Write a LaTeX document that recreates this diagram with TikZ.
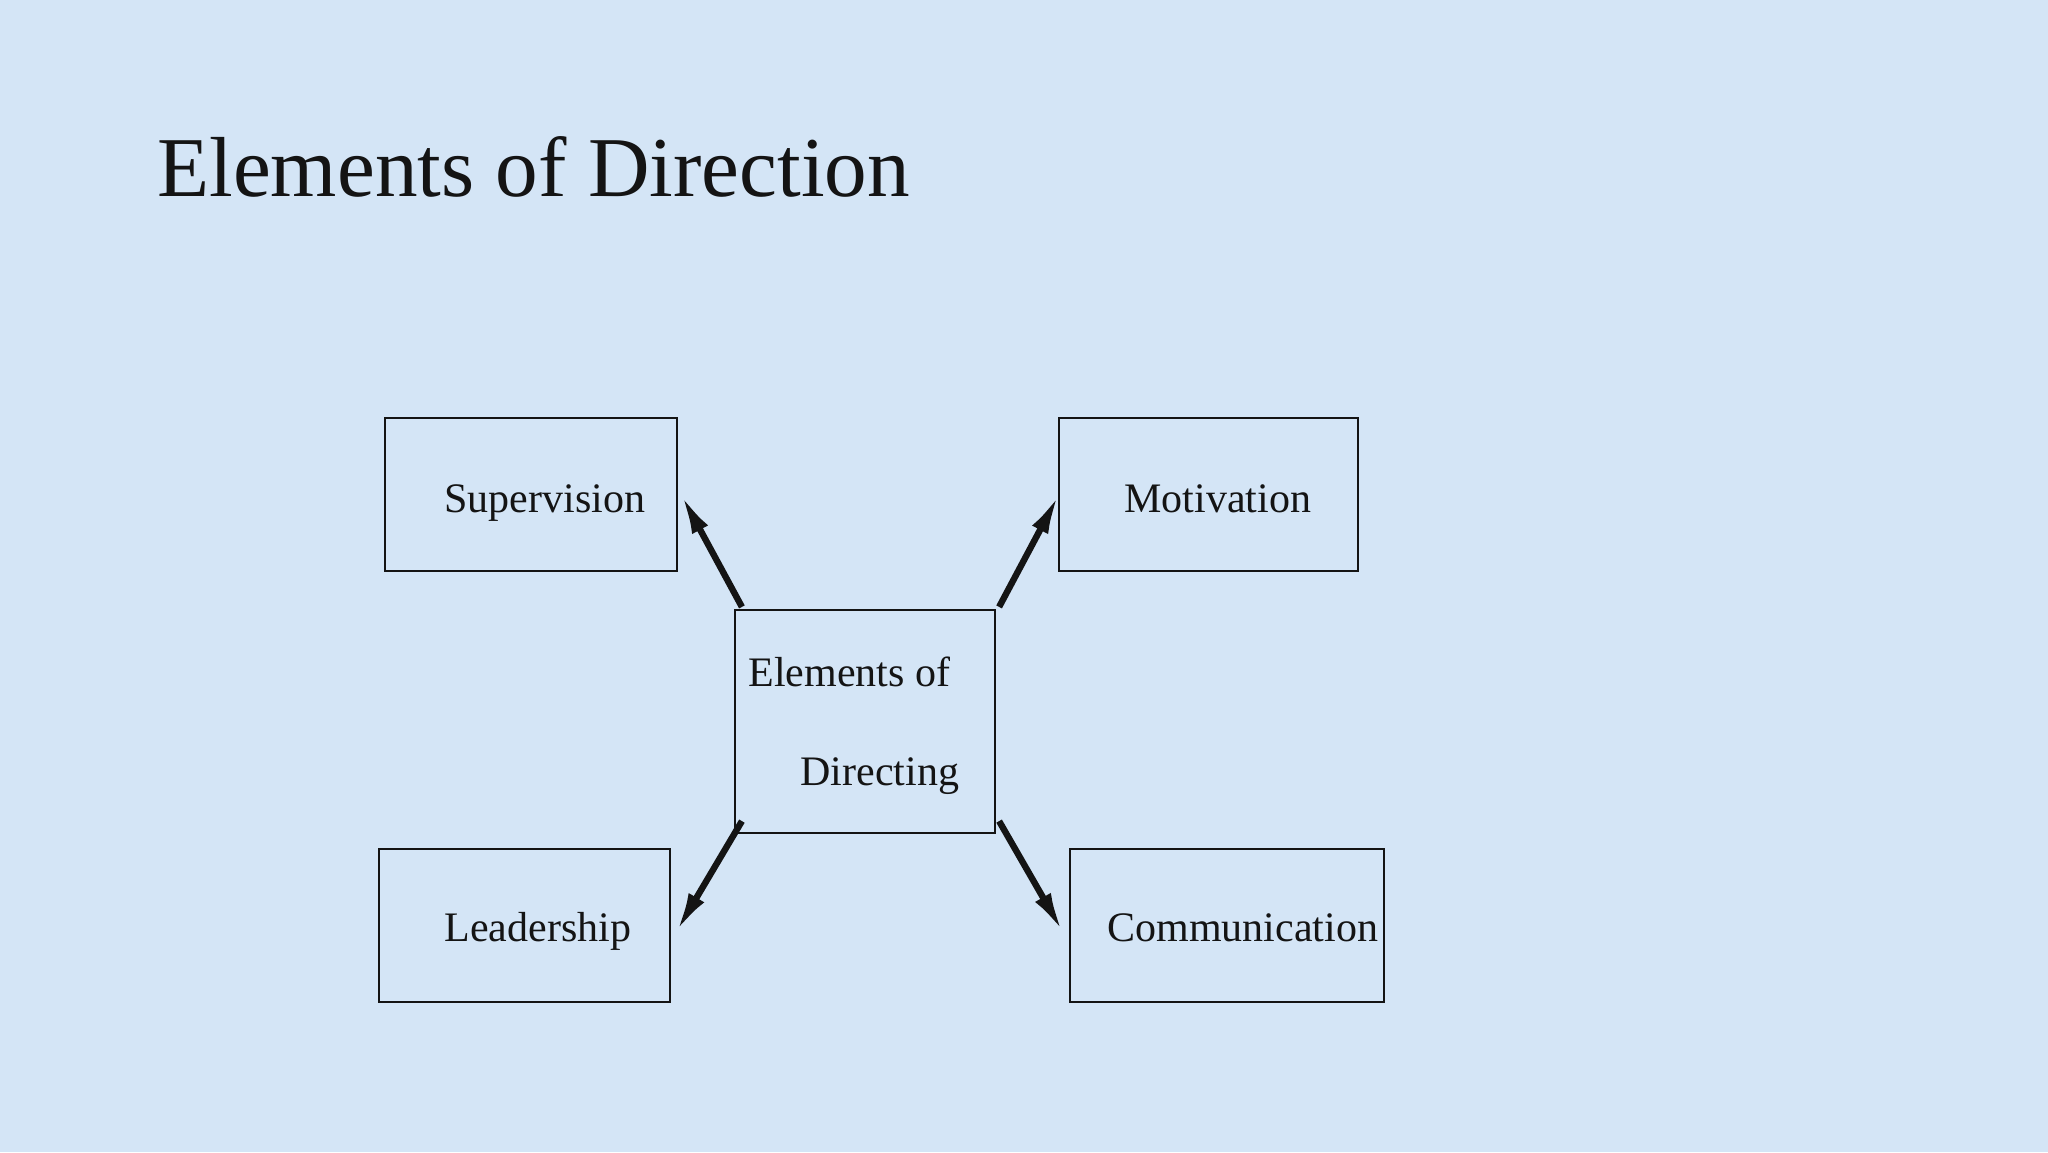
\documentclass[tikz,border=0pt]{standalone}
\usepackage{fontspec}
\setmainfont{Liberation Serif}
\usetikzlibrary{arrows.meta}
\definecolor{bgblue}{RGB}{212,229,246}
\definecolor{ink}{RGB}{20,20,20}
\begin{document}
\begin{tikzpicture}[x=0.5pt,y=-0.5pt,
  box/.style={draw=ink,line width=1.1pt,rectangle,inner sep=0pt},
  lbl/.style={anchor=base west,inner sep=0pt,text=ink,font=\fontsize{21}{25}\selectfont},
  arr/.style={draw=ink,line width=3.2pt,-{Latex[length=20pt,width=9pt]}}]
\fill[bgblue] (0,0) rectangle (2048,1152);
\useasboundingbox (0,0) rectangle (2048,1152);
% title
\node[anchor=base west,inner sep=0pt,text=ink,font=\fontsize{42.6}{50}\selectfont] (title) at (157,196) {Elements of Direction};
% boxes
\node[box,minimum width=146pt,minimum height=76.5pt] (sup) at (531,494.5) {};
\node[box,minimum width=149.5pt,minimum height=76.5pt] (mot) at (1208.5,494.5) {};
\node[box,minimum width=130pt,minimum height=111.5pt] (cen) at (865,721.5) {};
\node[box,minimum width=145.5pt,minimum height=76.5pt] (lead) at (524.5,925.5) {};
\node[box,minimum width=157pt,minimum height=76.5pt] (comm) at (1227,925.5) {};
% labels
\node[lbl] (tsup) at (444,512) {Supervision};
\node[lbl] (tmot) at (1124,512) {Motivation};
\node[lbl] (tlead) at (444,941) {Leadership};
\node[lbl] (tcomm) at (1107,941) {Communication};
\node[lbl] (tcen1) at (748,686) {Elements of};
\node[lbl] (tcen2) at (800,785) {Directing};
% arrows
\coordinate (s1) at ([xshift=4pt,yshift=1pt]cen.north west);
\coordinate (s2) at ([xshift=1.5pt,yshift=1pt]cen.north east);
\coordinate (s3) at ([xshift=4pt,yshift=6.5pt]cen.south west);
\coordinate (s4) at ([xshift=1.5pt,yshift=6.5pt]cen.south east);
\draw[arr] (s1) -- ([xshift=1.5pt,yshift=0pt]sup.east);
\draw[arr] (s2) -- ([xshift=0.5pt,yshift=0pt]mot.west);
\draw[arr] (s3) -- ([xshift=2.5pt,yshift=-3.3pt]lead.east);
\draw[arr] (s4) -- ([xshift=-3pt,yshift=-3.3pt]comm.west);
\end{tikzpicture}
\end{document}
